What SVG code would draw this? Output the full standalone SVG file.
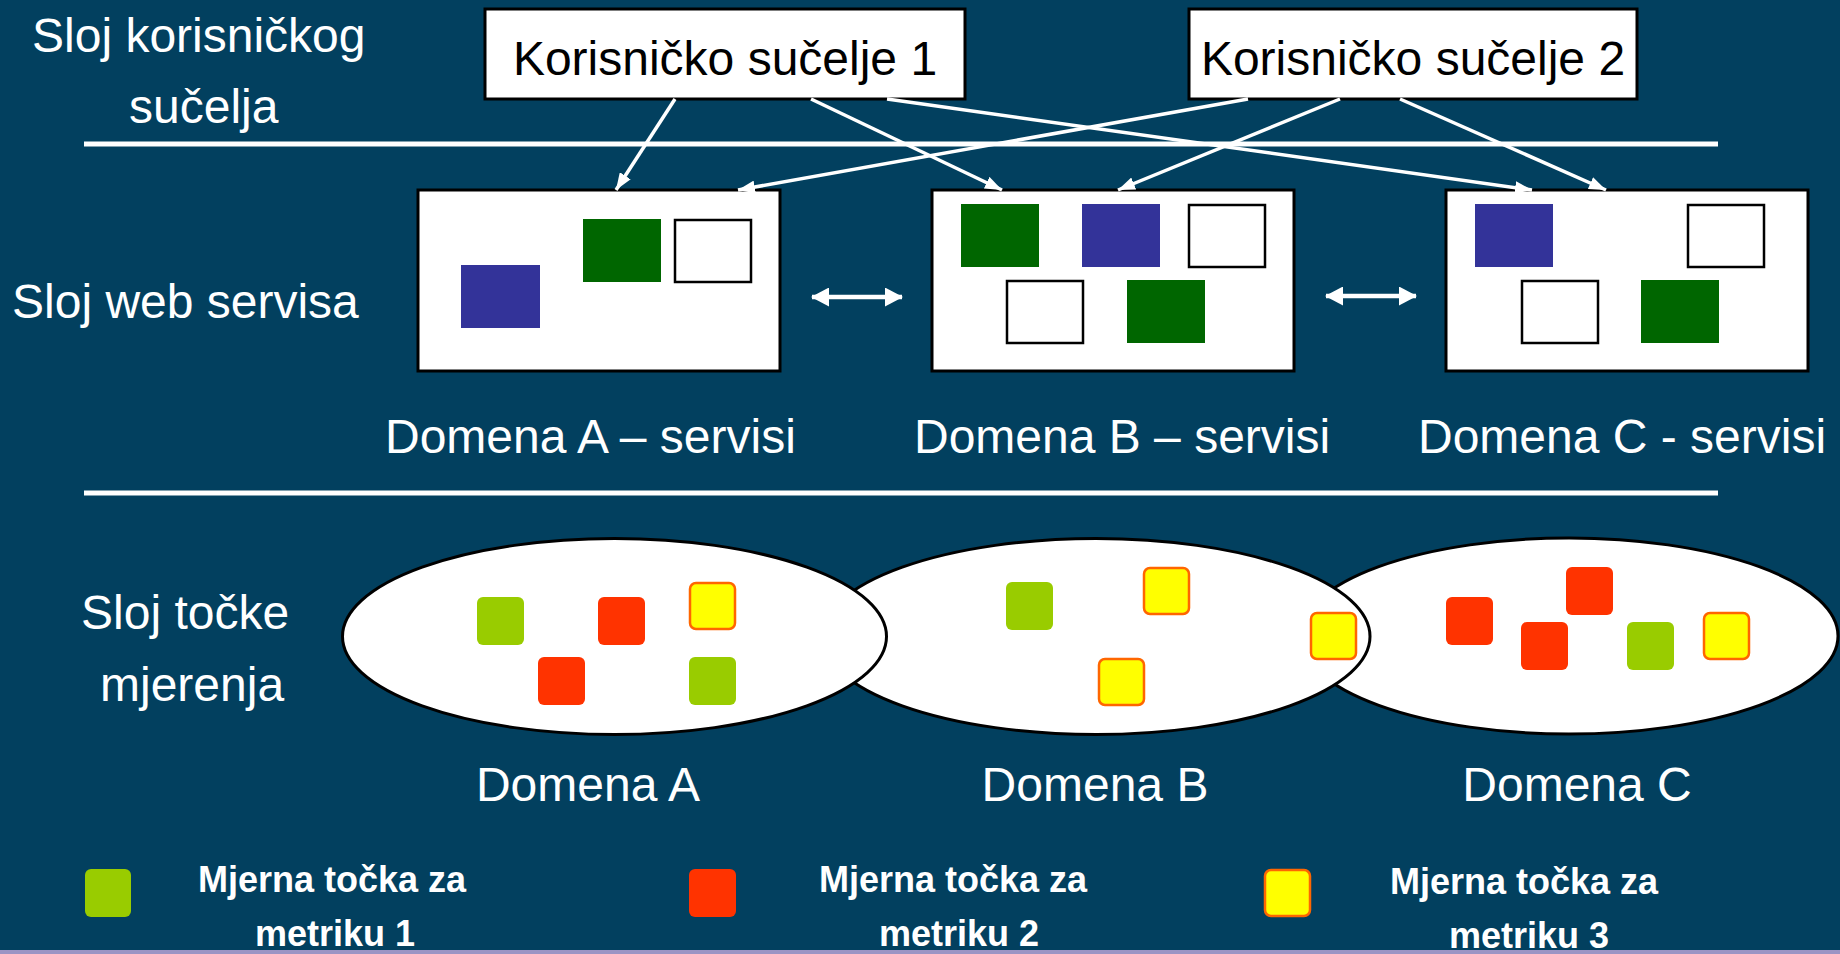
<svg xmlns="http://www.w3.org/2000/svg" width="1840" height="954" viewBox="0 0 1840 954">
<defs>
<style>
.lbl{font-family:"Liberation Sans",Arial,sans-serif;font-size:48px;fill:#fff}
.btxt{font-family:"Liberation Sans",Arial,sans-serif;font-size:48px;fill:#000}
.leg{font-family:"Liberation Sans",Arial,sans-serif;font-size:36px;font-weight:bold;fill:#fff;text-anchor:middle}
.box{fill:#fff;stroke:#000;stroke-width:3}
.wbox{fill:#fff;stroke:#000;stroke-width:2.5}
.blue{fill:#333399}
.dgreen{fill:#006600}
.ell{fill:#fff;stroke:#000;stroke-width:3}
.m1{fill:#99cc00}
.m2{fill:#ff3300}
.m3{fill:#ffff00;stroke:#ff6600;stroke-width:2.5}
.sep{stroke:#fff;stroke-width:5}
.conn{stroke:#fff;stroke-width:3.5;fill:none}
.dbl{stroke:#fff;stroke-width:4.5;fill:none}
</style>
<marker id="ah" viewBox="0 0 17 13" refX="17" refY="6.5" markerWidth="17" markerHeight="13" markerUnits="userSpaceOnUse" orient="auto">
<path d="M0,0 L17,6.5 L0,13 z" fill="#fff"/>
</marker>
<marker id="dh" viewBox="0 0 18 19" refX="17" refY="9.5" markerWidth="18" markerHeight="19" markerUnits="userSpaceOnUse" orient="auto-start-reverse">
<path d="M0,0 L18,9.5 L0,19 z" fill="#fff"/>
</marker>
</defs>
<rect x="0" y="0" width="1840" height="954" fill="#02405f"/>
<rect x="0" y="950" width="1840" height="4" fill="#9b94c4"/>

<g id="layer-labels">
<text class="lbl" x="32" y="52">Sloj korisničkog</text>
<text class="lbl" x="129" y="123">sučelja</text>
<text class="lbl" x="12" y="318">Sloj web servisa</text>
<text class="lbl" x="81" y="629">Sloj točke</text>
<text class="lbl" x="100" y="701">mjerenja</text>
</g>

<g id="separators">
<line class="sep" x1="84" y1="144" x2="1718" y2="144"/>
<line class="sep" x1="84" y1="493" x2="1718" y2="493"/>
</g>

<g id="ui1">
<rect class="box" x="485" y="9" width="480" height="90"/>
<text class="btxt" x="725" y="75" text-anchor="middle">Korisničko sučelje 1</text>
</g>
<g id="ui2">
<rect class="box" x="1189" y="9" width="448" height="90"/>
<text class="btxt" x="1413" y="75" text-anchor="middle">Korisničko sučelje 2</text>
</g>

<g id="serviceA">
<rect class="box" x="418" y="190" width="362" height="181"/>
<rect class="blue" x="461" y="265" width="79" height="63"/>
<rect class="dgreen" x="583" y="219" width="78" height="63"/>
<rect class="wbox" x="675" y="220" width="76" height="62"/>
<text class="lbl" x="385" y="453">Domena A – servisi</text>
</g>
<g id="serviceB">
<rect class="box" x="932" y="190" width="362" height="181"/>
<rect class="dgreen" x="961" y="204" width="78" height="63"/>
<rect class="blue" x="1082" y="204" width="78" height="63"/>
<rect class="wbox" x="1189" y="205" width="76" height="62"/>
<rect class="wbox" x="1007" y="281" width="76" height="62"/>
<rect class="dgreen" x="1127" y="280" width="78" height="63"/>
<text class="lbl" x="914" y="453">Domena B – servisi</text>
</g>
<g id="serviceC">
<rect class="box" x="1446" y="190" width="362" height="181"/>
<rect class="blue" x="1475" y="204" width="78" height="63"/>
<rect class="wbox" x="1688" y="205" width="76" height="62"/>
<rect class="wbox" x="1522" y="281" width="76" height="62"/>
<rect class="dgreen" x="1641" y="280" width="78" height="63"/>
<text class="lbl" x="1418" y="453">Domena C - servisi</text>
</g>

<g id="connectors">
<line class="conn" x1="675" y1="99" x2="616" y2="190" marker-end="url(#ah)"/>
<line class="conn" x1="811" y1="99" x2="1002" y2="190" marker-end="url(#ah)"/>
<line class="conn" x1="887" y1="99" x2="1532" y2="190" marker-end="url(#ah)"/>
<line class="conn" x1="1248" y1="99" x2="738" y2="190" marker-end="url(#ah)"/>
<line class="conn" x1="1340" y1="99" x2="1118" y2="190" marker-end="url(#ah)"/>
<line class="conn" x1="1400" y1="99" x2="1606" y2="190" marker-end="url(#ah)"/>
<line class="dbl" x1="812" y1="297" x2="902" y2="297" marker-start="url(#dh)" marker-end="url(#dh)"/>
<line class="dbl" x1="1326" y1="296" x2="1416" y2="296" marker-start="url(#dh)" marker-end="url(#dh)"/>
</g>

<g id="domainC">
<ellipse class="ell" cx="1569" cy="636" rx="269" ry="98"/>
</g>
<g id="domainB">
<ellipse class="ell" cx="1096" cy="636.5" rx="274" ry="98"/>
</g>
<g id="domainA">
<ellipse class="ell" cx="614.5" cy="636.5" rx="272" ry="98"/>
</g>

<g id="pointsA">
<rect class="m1" x="477" y="597" width="47" height="48" rx="6"/>
<rect class="m2" x="598" y="597" width="47" height="48" rx="6"/>
<rect class="m3" x="690" y="583" width="45" height="46" rx="6"/>
<rect class="m2" x="538" y="657" width="47" height="48" rx="6"/>
<rect class="m1" x="689" y="657" width="47" height="48" rx="6"/>
<text class="lbl" x="588" y="801" text-anchor="middle">Domena A</text>
</g>
<g id="pointsB">
<rect class="m1" x="1006" y="582" width="47" height="48" rx="6"/>
<rect class="m3" x="1144" y="568" width="45" height="46" rx="6"/>
<rect class="m3" x="1099" y="659" width="45" height="46" rx="6"/>
<rect class="m3" x="1311" y="613" width="45" height="46" rx="6"/>
<text class="lbl" x="1095" y="801" text-anchor="middle">Domena B</text>
</g>
<g id="pointsC">
<rect class="m2" x="1446" y="597" width="47" height="48" rx="6"/>
<rect class="m2" x="1566" y="567" width="47" height="48" rx="6"/>
<rect class="m2" x="1521" y="622" width="47" height="48" rx="6"/>
<rect class="m1" x="1627" y="622" width="47" height="48" rx="6"/>
<rect class="m3" x="1704" y="613" width="45" height="46" rx="6"/>
<text class="lbl" x="1577" y="801" text-anchor="middle">Domena C</text>
</g>

<g id="legend1">
<rect class="m1" x="85" y="869" width="46" height="48" rx="6"/>
<text class="leg" x="332" y="892">Mjerna točka za</text>
<text class="leg" x="335" y="946">metriku 1</text>
</g>
<g id="legend2">
<rect class="m2" x="689" y="869" width="47" height="48" rx="6"/>
<text class="leg" x="953" y="892">Mjerna točka za</text>
<text class="leg" x="959" y="946">metriku 2</text>
</g>
<g id="legend3">
<rect class="m3" x="1265" y="870" width="45" height="46" rx="6"/>
<text class="leg" x="1524" y="894">Mjerna točka za</text>
<text class="leg" x="1529" y="948">metriku 3</text>
</g>
</svg>
